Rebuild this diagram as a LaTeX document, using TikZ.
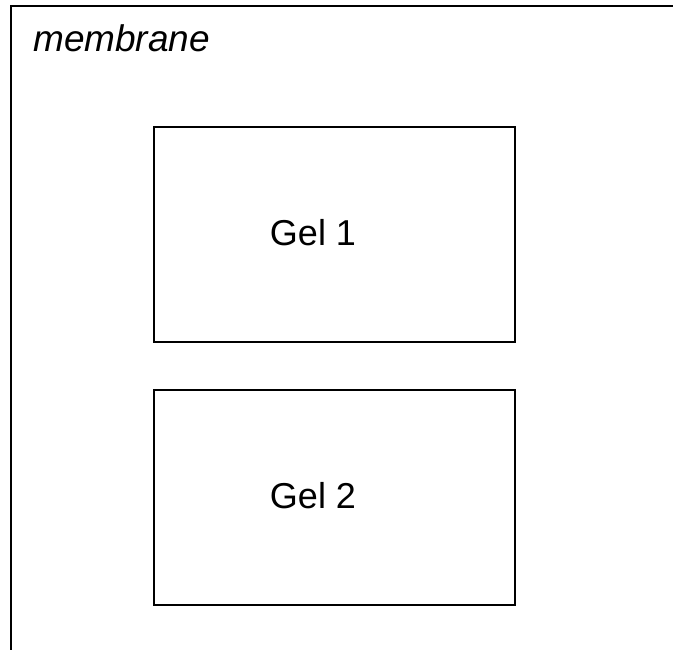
\documentclass[tikz,border=0pt]{standalone}
\usepackage{fontspec}
\setmainfont{Liberation Sans}
\begin{document}
\begin{tikzpicture}[x=1pt,y=1pt,
  gel/.style={draw=black,line width=2pt,minimum width=361pt,minimum height=215pt,inner sep=0pt},
  gellabel/.style={anchor=base,inner sep=0pt,font=\fontsize{36}{43}\selectfont},
  edge/.style={draw=black,line width=2pt}]
\useasboundingbox (0,0) rectangle (673,650);
% membrane boundary: only its top and left sides fall inside the frame
\coordinate (mtop) at (700,644);
\coordinate (mcorner) at (11,644);
\coordinate (mbottom) at (11,-20);
\draw[edge] (mtop) -- (mcorner) -- (mbottom);
\node[anchor=base west,inner sep=0pt,font=\fontsize{37}{44}\selectfont\itshape] (label) at (33,598) {membrane};
% gels
\node[gel] (gel1) at (334.5,415.5) {};
\node[gel] (gel2) at (334.5,152) {};
\node[gellabel] (gel1text) at (313,404) {Gel 1};
\node[gellabel] (gel2text) at (313,141) {Gel 2};
\end{tikzpicture}
\end{document}
